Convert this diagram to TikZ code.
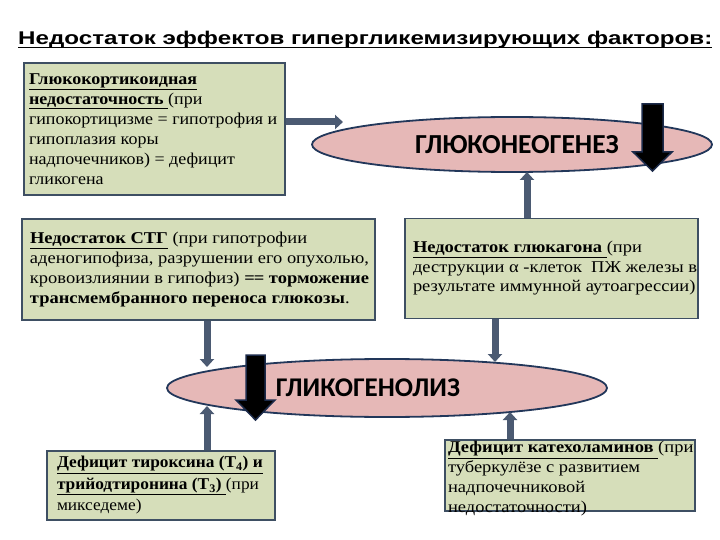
\documentclass[tikz,border=0pt]{standalone}
\usepackage{fontspec}
\usepackage{graphicx}
\usetikzlibrary{arrows.meta,shapes.geometric}
\newfontfamily\bodyfont[FakeStretch=1.12]{Liberation Serif}
\newfontfamily\bodyfontA[FakeStretch=1.09]{Liberation Serif}
\newfontfamily\bodyfontB[FakeStretch=1.05]{Liberation Serif}
\newfontfamily\titlefont{Liberation Sans}
\newfontfamily\ellfont{Carlito}
\definecolor{boxfill}{HTML}{D6DEBA}
\definecolor{boxborder}{HTML}{3E4F63}
\definecolor{connclr}{HTML}{4B5A72}
\definecolor{ellfill}{HTML}{E6B8B7}
\definecolor{ellborder}{HTML}{22375A}
\definecolor{arrborder}{HTML}{1C2B4A}
% #1 width, #2 height, #3 left margin, #4 line spacing, #5 font, #6 text
\newcommand\bxt[6]{\parbox[c][#2][c]{#1}{\raggedright\leftskip=#3\relax#5\fontsize{16.5pt}{#4}\selectfont #6}}
\newcommand\thickul[1]{\setbox0\hbox{#1}\rlap{\raisebox{-3.2pt}{\rule{\wd0}{1.4pt}}}\box0}
\tikzset{
  box/.style={draw=boxborder, line width=1.8pt, fill=boxfill, inner sep=0pt, anchor=center},
  ell/.style={ellipse, draw=ellborder, line width=1.8pt, fill=ellfill, inner sep=0pt},
  conn/.style={draw=connclr, line width=7pt, -{Triangle[length=8pt,width=14pt]}},
  bigarrow/.style={fill=black, draw=arrborder, line width=1.5pt, line join=miter},
  ttl/.style={anchor=base west, inner sep=0pt}
}
\begin{document}
\begin{tikzpicture}[x=1pt,y=-1pt]
\useasboundingbox (0,0) rectangle (720,540);
\fill[white] (0,0) rectangle (720,540);

% title
\node[ttl] (title) at (18,45) {\resizebox{694pt}{\height}{\titlefont\bfseries\fontsize{18.4pt}{20pt}\selectfont\thickul{Недостаток эффектов гипергликемизирующих факторов:}}};

% ellipses
\node[ell, minimum width=400pt, minimum height=55pt] (e1) at (512,144.5) {\ellfont\bfseries\fontsize{27.5pt}{30pt}\selectfont\hspace*{10pt}ГЛЮКОНЕОГЕНЕЗ};
\node[ell, minimum width=440pt, minimum height=58pt] (e2) at (387,388) {\ellfont\bfseries\fontsize{27pt}{30pt}\selectfont ГЛИКОГЕНОЛИЗ\hspace*{38pt}};

% boxes
\node[box] (b1) at (154.5,129) {\bxt{261pt}{132pt}{5pt}{20pt}{\bodyfontA}{%
\underline{\textbf{Глюкокортикоидная}}\\
\underline{\textbf{недостаточность\ }}(при\\
гипокортицизме = гипотрофия и\\
гипоплазия коры\\
надпочечников) = дефицит\\
гликогена}};

\node[box] (b2) at (198.5,269.5) {\bxt{353pt}{101pt}{8pt}{20pt}{\bodyfont}{%
\underline{\textbf{Недостаток СТГ}} (при гипотрофии\\
аденогипофиза, разрушении его опухолью,\\
кровоизлиянии в гипофиз) \textbf{=\kern-1pt=} \textbf{торможение}\\
\textbf{трансмембранного переноса глюкозы}.}};

\node[box] (b3) at (551.5,268.5) {\bxt{293pt}{100pt}{8pt}{19.5pt}{\bodyfont}{%
\underline{\textbf{Недостаток глюкагона\ }}(при\\
деструкции α -клеток~ ПЖ железы в\\
результате иммунной аутоагрессии)}};

\node[box] (b4) at (161,485.5) {\bxt{228pt}{69pt}{10pt}{21.5pt}{\bodyfontB}{%
\underline{\textbf{Дефицит тироксина (Т\textsubscript{4}) и}}\\
\underline{\textbf{трийодтиронина (Т\textsubscript{3})\ }}(при\\
микседеме)}};

\node[box] (b5) at (570,475.5) {\bxt{250pt}{71pt}{3pt}{20pt}{\bodyfont}{%
\vspace*{7pt}\underline{\textbf{Дефицит катехоламинов\ }}(при\\
туберкулёзе с развитием\\
надпочечниковой\\
недостаточности)}};

% connector end points
\coordinate (c1) at (343,122);
\coordinate (c2) at (527,172);
\coordinate (c3) at (207,367);
\coordinate (c4) at (495,362);
\coordinate (c5) at (207,406);
\coordinate (c6) at (510,412);

\draw[conn] (b1.east |- c1) -- (c1);
\draw[conn] (c2 |- b3.north) -- (c2);
\draw[conn] (c3 |- b2.south) -- (c3);
\draw[conn] (c4 |- b3.south) -- (c4);
\draw[conn] (c5 |- b4.north) -- (c5);
\draw[conn] (c6 |- b5.north) -- (c6);

% big black arrows
\draw[bigarrow] (642,104) -- (663,104) -- (663,152) -- (672,152) -- (652.5,171) -- (633,152) -- (642,152) -- cycle;
\draw[bigarrow] (246,355) -- (265,355) -- (265,400) -- (275,400) -- (255.5,420) -- (236,400) -- (246,400) -- cycle;
\end{tikzpicture}
\end{document}
